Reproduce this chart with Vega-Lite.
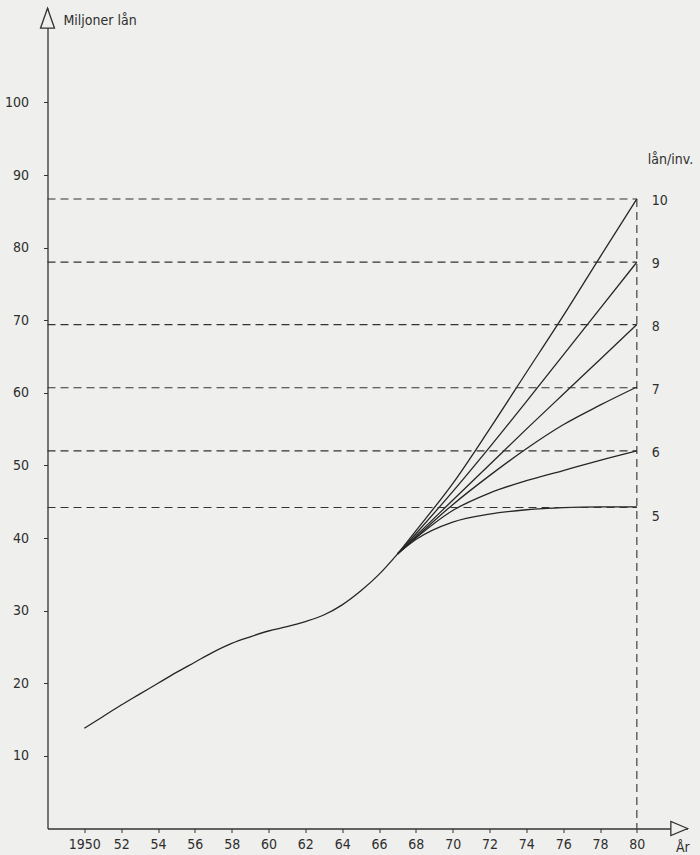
{
  "$schema": "https://vega.github.io/schema/vega-lite/v6.json",
  "width": 640,
  "height": 820.5,
  "autosize": {"type": "none"},
  "padding": {"left": 47.5, "top": 8, "right": 12.5, "bottom": 26.5},
  "background": "#efefed",
  "config": {
    "view": {"stroke": null},
    "font": "DejaVu Sans Condensed"
  },
  "datasets": {
    "curves": [
      {"series": "base", "year": 1950, "value": 13.8},
      {"series": "base", "year": 1951, "value": 15.4},
      {"series": "base", "year": 1952, "value": 17.0},
      {"series": "base", "year": 1953, "value": 18.5},
      {"series": "base", "year": 1954, "value": 20.0},
      {"series": "base", "year": 1955, "value": 21.5},
      {"series": "base", "year": 1956, "value": 22.9},
      {"series": "base", "year": 1957, "value": 24.3},
      {"series": "base", "year": 1958, "value": 25.5},
      {"series": "base", "year": 1959, "value": 26.4},
      {"series": "base", "year": 1960, "value": 27.2},
      {"series": "base", "year": 1961, "value": 27.8},
      {"series": "base", "year": 1962, "value": 28.5},
      {"series": "base", "year": 1963, "value": 29.4},
      {"series": "base", "year": 1964, "value": 30.8},
      {"series": "base", "year": 1965, "value": 32.7},
      {"series": "base", "year": 1966, "value": 35.0},
      {"series": "base", "year": 1967, "value": 37.8},
      {"series": "10", "year": 1967, "value": 37.8},
      {"series": "10", "year": 1968, "value": 41.0},
      {"series": "10", "year": 1970, "value": 47.5},
      {"series": "10", "year": 1972, "value": 55.0},
      {"series": "10", "year": 1974, "value": 62.8},
      {"series": "10", "year": 1976, "value": 70.6},
      {"series": "10", "year": 1978, "value": 78.7},
      {"series": "10", "year": 1980, "value": 86.7},
      {"series": "9", "year": 1967, "value": 37.8},
      {"series": "9", "year": 1968, "value": 40.6},
      {"series": "9", "year": 1970, "value": 46.4},
      {"series": "9", "year": 1972, "value": 52.5},
      {"series": "9", "year": 1974, "value": 58.8},
      {"series": "9", "year": 1976, "value": 65.2},
      {"series": "9", "year": 1978, "value": 71.6},
      {"series": "9", "year": 1980, "value": 78.0},
      {"series": "8", "year": 1967, "value": 37.8},
      {"series": "8", "year": 1968, "value": 40.3},
      {"series": "8", "year": 1970, "value": 45.2},
      {"series": "8", "year": 1972, "value": 50.1},
      {"series": "8", "year": 1974, "value": 55.0},
      {"series": "8", "year": 1976, "value": 59.8},
      {"series": "8", "year": 1978, "value": 64.6},
      {"series": "8", "year": 1980, "value": 69.4},
      {"series": "7", "year": 1967, "value": 37.8},
      {"series": "7", "year": 1968, "value": 40.1},
      {"series": "7", "year": 1970, "value": 44.6},
      {"series": "7", "year": 1972, "value": 48.6},
      {"series": "7", "year": 1974, "value": 52.3},
      {"series": "7", "year": 1976, "value": 55.6},
      {"series": "7", "year": 1978, "value": 58.3},
      {"series": "7", "year": 1980, "value": 60.8},
      {"series": "6", "year": 1967, "value": 37.8},
      {"series": "6", "year": 1968, "value": 40.0},
      {"series": "6", "year": 1970, "value": 43.8},
      {"series": "6", "year": 1972, "value": 46.2},
      {"series": "6", "year": 1974, "value": 47.9},
      {"series": "6", "year": 1976, "value": 49.3},
      {"series": "6", "year": 1978, "value": 50.7},
      {"series": "6", "year": 1980, "value": 52.0},
      {"series": "5", "year": 1967, "value": 37.8},
      {"series": "5", "year": 1968, "value": 39.8},
      {"series": "5", "year": 1970, "value": 42.2},
      {"series": "5", "year": 1972, "value": 43.3},
      {"series": "5", "year": 1974, "value": 43.9},
      {"series": "5", "year": 1976, "value": 44.2},
      {"series": "5", "year": 1978, "value": 44.3},
      {"series": "5", "year": 1980, "value": 44.3}
    ],
    "levels": [
      {"label": "10", "value": 86.7},
      {"label": "9", "value": 78.0},
      {"label": "8", "value": 69.4},
      {"label": "7", "value": 60.7},
      {"label": "6", "value": 52.0},
      {"label": "5", "value": 44.2}
    ]
  },
  "layer": [
    {
      "data": {"name": "curves"},
      "mark": {"type": "line", "interpolate": "monotone", "stroke": "#262626", "strokeWidth": 1.3},
      "encoding": {
        "x": {
          "field": "year", "type": "quantitative",
          "scale": {"domain": [1948, 1982.75], "nice": false, "zero": false},
          "axis": {
            "values": [1950, 1952, 1954, 1956, 1958, 1960, 1962, 1964, 1966, 1968, 1970, 1972, 1974, 1976, 1978, 1980],
            "format": "d",
            "labelExpr": "datum.value == 1950 ? datum.label : substring(datum.label, 2, 4)",
            "title": null, "grid": false, "domain": true, "domainColor": "#333", "domainWidth": 1.3,
            "tickSize": 4, "tickColor": "#333", "tickWidth": 1,
            "labelPadding": 5, "labelFont": "DejaVu Sans Condensed", "labelFontSize": 14, "labelColor": "#2e2e2e"
          }
        },
        "y": {
          "field": "value", "type": "quantitative",
          "scale": {"domain": [0, 113], "nice": false},
          "axis": {
            "values": [10, 20, 30, 40, 50, 60, 70, 80, 90, 100],
            "title": null, "grid": false, "domain": true, "domainColor": "#333", "domainWidth": 1.3,
            "tickSize": 4, "tickColor": "#333", "tickWidth": 1,
            "labelPadding": 15, "labelFont": "DejaVu Sans Condensed", "labelFontSize": 14, "labelColor": "#2e2e2e"
          }
        },
        "detail": {"field": "series", "type": "nominal"}
      }
    },
    {
      "data": {"name": "levels"},
      "mark": {"type": "rule", "stroke": "#333", "strokeWidth": 1.1, "strokeDash": [8, 5]},
      "encoding": {
        "y": {"field": "value", "type": "quantitative"},
        "x": {"datum": 1948, "type": "quantitative"},
        "x2": {"datum": 1980}
      }
    },
    {
      "data": {"name": "levels"},
      "transform": [{"filter": "datum.label == '10'"}],
      "mark": {"type": "rule", "stroke": "#333", "strokeWidth": 1.1, "strokeDash": [8, 5]},
      "encoding": {
        "y": {"field": "value", "type": "quantitative"},
        "y2": {"datum": 0},
        "x": {"datum": 1980, "type": "quantitative"}
      }
    },
    {
      "data": {"values": [{"a": 1}]},
      "mark": {"type": "point", "shape": "M0,-1L0.7,1L-0.7,1Z", "size": 400, "filled": true, "fill": "#efefed", "stroke": "#333", "strokeWidth": 1.3, "opacity": 1},
      "encoding": {
        "x": {"datum": 1948, "type": "quantitative"},
        "y": {"datum": 111.6, "type": "quantitative"}
      }
    },
    {
      "data": {"values": [{"a": 1}]},
      "mark": {"type": "point", "shape": "M1,0L-1,-0.85L-1,0.85Z", "size": 280, "filled": true, "fill": "#efefed", "stroke": "#333", "strokeWidth": 1.3, "opacity": 1},
      "encoding": {
        "x": {"datum": 1982.3, "type": "quantitative"},
        "y": {"datum": 0, "type": "quantitative"}
      }
    },
    {
      "data": {"name": "levels"},
      "transform": [{"filter": "datum.label != '5'"}],
      "mark": {"type": "text", "align": "left", "baseline": "middle", "dx": 15, "dy": 2, "fontSize": 14, "color": "#2e2e2e"},
      "encoding": {
        "x": {"datum": 1980, "type": "quantitative"},
        "y": {"field": "value", "type": "quantitative"},
        "text": {"field": "label", "type": "nominal"}
      }
    },
    {
      "data": {"name": "levels"},
      "transform": [{"filter": "datum.label == '5'"}],
      "mark": {"type": "text", "align": "left", "baseline": "middle", "dx": 15, "dy": 9, "fontSize": 14, "color": "#2e2e2e"},
      "encoding": {
        "x": {"datum": 1980, "type": "quantitative"},
        "y": {"field": "value", "type": "quantitative"},
        "text": {"field": "label", "type": "nominal"}
      }
    },
    {
      "data": {"values": [{"t": "lån/inv."}]},
      "mark": {"type": "text", "align": "left", "baseline": "middle", "dx": 11, "fontSize": 14, "color": "#2e2e2e"},
      "encoding": {
        "x": {"datum": 1980, "type": "quantitative"},
        "y": {"datum": 92.0, "type": "quantitative"},
        "text": {"field": "t", "type": "nominal"}
      }
    },
    {
      "data": {"values": [{"t": "Miljoner lån"}]},
      "mark": {"type": "text", "align": "left", "baseline": "middle", "dx": 16, "fontSize": 14, "color": "#2e2e2e"},
      "encoding": {
        "x": {"datum": 1948, "type": "quantitative"},
        "y": {"datum": 111.2, "type": "quantitative"},
        "text": {"field": "t", "type": "nominal"}
      }
    },
    {
      "data": {"values": [{"t": "År"}]},
      "mark": {"type": "text", "align": "center", "baseline": "middle", "dy": 19, "fontSize": 14, "color": "#2e2e2e"},
      "encoding": {
        "x": {"datum": 1982.5, "type": "quantitative"},
        "y": {"datum": 0, "type": "quantitative"},
        "text": {"field": "t", "type": "nominal"}
      }
    }
  ]
}
